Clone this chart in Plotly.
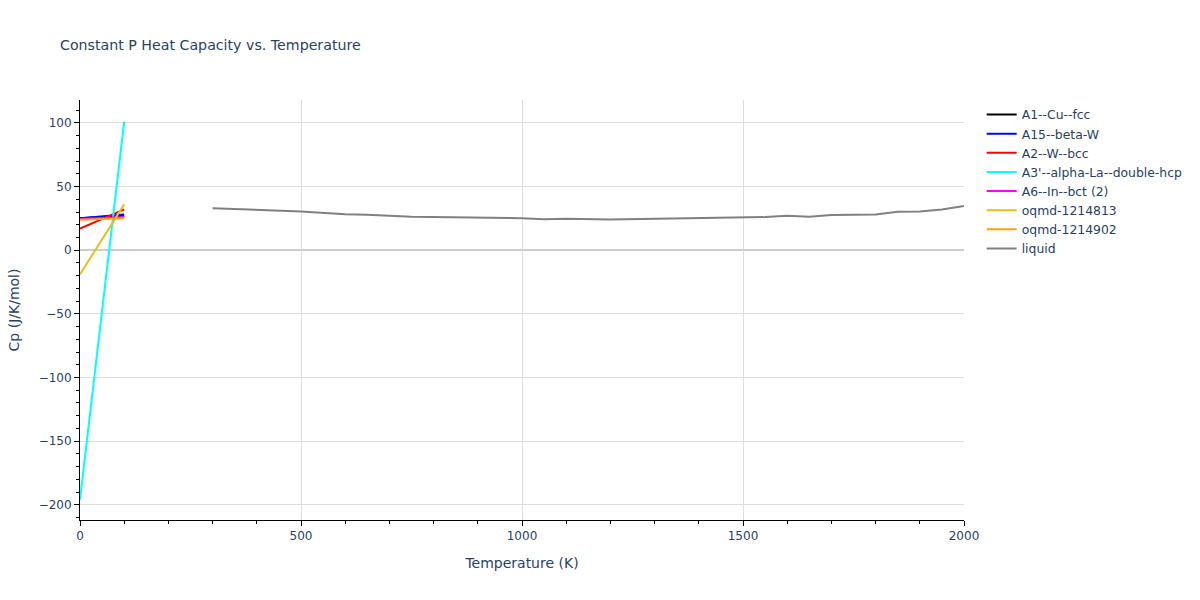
import plotly.graph_objects as go

T_low = [0, 100]
a1_cp = [25.0, 27.0]
a15_cp = [25.0, 28.0]
a2_cp = [17.0, 32.0]
a3_cp = [-196.0, 101.0]
a6_cp = [24.5, 26.0]
oq813_cp = [-19.0, 36.0]
oq902_cp = [24.0, 25.0]

T_liq = [300, 450, 500, 600, 650, 750, 800, 900, 950, 1000, 1050, 1100, 1200, 1250,
         1350, 1400, 1500, 1550, 1600, 1650, 1700, 1750, 1800, 1850, 1900, 1950, 2000]
liq_cp = [33.0, 31.2, 30.3, 28.2, 27.8, 26.3, 26.1, 25.6, 25.3, 25.1, 24.3, 24.7, 24.2, 24.5,
          24.6, 25.0, 25.7, 26.0, 27.1, 26.3, 27.6, 28.1, 28.1, 30.1, 30.3, 32.0, 34.7]

series = [
    ("A1--Cu--fcc", T_low, a1_cp, "black"),
    ("A15--beta-W", T_low, a15_cp, "blue"),
    ("A2--W--bcc", T_low, a2_cp, "red"),
    ("A3'--alpha-La--double-hcp", T_low, a3_cp, "cyan"),
    ("A6--In--bct (2)", T_low, a6_cp, "magenta"),
    ("oqmd-1214813", T_low, oq813_cp, "#E6BE1E"),
    ("oqmd-1214902", T_low, oq902_cp, "orange"),
    ("liquid", T_liq, liq_cp, "gray"),
]

fig = go.Figure()
for name, x, y, c in series:
    fig.add_trace(go.Scatter(x=x, y=y, mode="lines", name=name, line=dict(color=c, width=2)))

fig.update_layout(
    template="plotly_white",
    width=1200, height=600,
    title=dict(text="Constant P Heat Capacity vs. Temperature", x=0.05, font=dict(size=14.2)),
    font=dict(family="DejaVu Sans, Verdana, sans-serif", size=12, color="#2a3f5f"),
    margin=dict(l=80, r=80, t=100, b=80),
    legend=dict(font=dict(size=12.4)),
)
axis_common = dict(showline=True, linecolor="black", linewidth=1, ticks="outside",
                   tickcolor="black", ticklen=5, gridcolor="#dddddd",
                   zerolinecolor="#cccccc", zerolinewidth=2)
fig.update_xaxes(title_text="Temperature (K)", range=[0, 2000], dtick=500,
                 minor=dict(ticks="outside", dtick=100, ticklen=3, tickcolor="black", showgrid=False),
                 **axis_common)
fig.update_yaxes(title_text="Cp (J/K/mol)", range=[-212, 118], dtick=50,
                 minor=dict(ticks="outside", dtick=10, ticklen=3, tickcolor="black", showgrid=False),
                 **axis_common)
fig.write_html("out.html", config={"displayModeBar": False},
               post_script="document.body.style.margin='0px';")
